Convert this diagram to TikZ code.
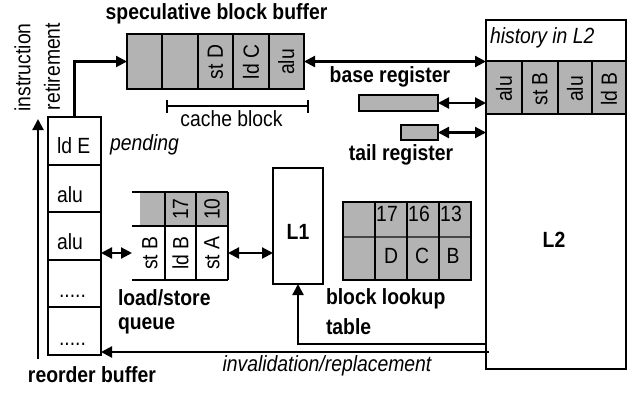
\documentclass[tikz,border=0pt]{standalone}
\usepackage{fontspec}
\setmainfont{Liberation Sans}[FakeStretch=0.88]
\usetikzlibrary{arrows.meta}
\definecolor{cellgray}{RGB}{179,179,179}
\definecolor{ruleline}{RGB}{70,70,70}
\begin{document}
\begin{tikzpicture}[x=1pt,y=-1pt,line width=2pt,
  >={Triangle[length=11pt,width=11pt]},
  every node/.style={font=\fontsize{22}{26}\selectfont,inner sep=0pt,outer sep=0pt},
  box/.style={draw,rectangle,line width=2pt},
  shaded/.style={box,fill=cellgray},
  vtext/.style={rotate=90},
  title/.style={font=\fontsize{22}{26}\selectfont\bfseries},
  note/.style={font=\fontsize{22}{26}\selectfont\itshape},
  conn/.style={line width=2.2pt}]
\useasboundingbox (0,0) rectangle (628,410);

% ---- speculative block buffer ----
\node[title] (sbtitle) at (216.5,14) {speculative block buffer};
\node[shaded,minimum width=177pt,minimum height=55pt] (sb) at (215.5,61.5) {};
\foreach \x in {162.4,197.8,233.2,268.6} \draw (\x,34) -- (\x,89);
\node[vtext] (sbD) at (215.5,62) {st D};
\node[vtext] (sbC) at (250.9,62) {ld C};
\node[vtext] (sbA) at (286.3,62) {alu};
\coordinate (cbl) at (166,106);
\coordinate (cbr) at (309,106);
\draw[line width=1.6pt,{Bar[width=13pt]}-{Bar[width=13pt]}] (cbl) -- (cbr);
\node (cblabel) at (231.5,119) {cache block};

% ---- L2 with history row ----
\fill[cellgray] (486,61) rectangle (626,114);
\node[box,minimum width=140pt,minimum height=349pt] (l2) at (556,194.5) {};
\draw (486,61) -- (626,61) (486,114) -- (626,114);
\foreach \x in {522,558,592} \draw (\x,61) -- (\x,114);
\node[note,anchor=west] (hist) at (490,38) {history in L2};
\node[vtext] (h1) at (504,89) {alu};
\node[vtext] (h2) at (540,89) {st B};
\node[vtext] (h3) at (575,89) {alu};
\node[vtext] (h4) at (609,89) {ld B};
\node[title] (l2lbl) at (554,240) {L2};

% ---- registers ----
\node[shaded,minimum width=79pt,minimum height=16pt] (basereg) at (398.5,103) {};
\node[title] (baselbl) at (390,77) {base register};
\node[shaded,minimum width=37pt,minimum height=15pt] (tailreg) at (419.5,132.5) {};
\node[title] (taillbl) at (401,155) {tail register};

% ---- reorder buffer ----
\foreach \i/\y in {1/140.8,2/188.4,3/236,4/283.6,5/331.2}
  \node[box,minimum width=53pt,minimum height=47.6pt] (rob\i) at (74.5,\y) {};
\node[anchor=base west] (r1) at (57,153.6) {ld E};
\node[anchor=base west] (r2) at (57,202) {alu};
\node[anchor=base west] (r3) at (57,249.6) {alu};
\node[anchor=base west] (r4) at (59,297.4) {.....};
\node[anchor=base west] (r5) at (59,345) {.....};
\node[title] (roblbl) at (92,375) {reorder buffer};
\node[note,anchor=west] (pend) at (110,145) {pending};
\node[vtext] (instr) at (22.5,67.5) {instruction};
\node[vtext] (retir) at (52,66.5) {retirement};

% ---- load/store queue ----
\fill[cellgray] (140,192) rectangle (228,226);
\draw (132,192) -- (228,192) (132,226) -- (228,226) (132,280) -- (228,280);
\foreach \x in {165,196,228} \draw (\x,192) -- (\x,280);
\node[minimum width=96pt,minimum height=54pt] (lsqbot) at (180,253) {};
\node[vtext] (q17) at (180.5,209) {17};
\node[vtext] (q10) at (212,209) {10};
\node[vtext] (qa) at (150,253) {st B};
\node[vtext] (qb) at (180.5,253) {ld B};
\node[vtext] (qc) at (212,253) {st A};
\node[title,anchor=west] (lsqlbl1) at (118,298) {load/store};
\node[title,anchor=west] (lsqlbl2) at (118,326) {queue};

% ---- L1 ----
\node[box,minimum width=50pt,minimum height=116pt] (l1) at (298,226) {};
\node[title] (l1lbl) at (298,232) {L1};

% ---- block lookup table ----
\node[shaded,minimum width=128pt,minimum height=78pt] (blt) at (407,241) {};
\draw[ruleline,line width=1.2pt] (344,237) -- (470,237);
\foreach \x in {375,407,439} \draw (\x,202) -- (\x,280);
\node (t17) at (387,214) {17};
\node (t16) at (419,214) {16};
\node (t13) at (451,214) {13};
\node (tD) at (391,256) {D};
\node (tC) at (422,256) {C};
\node (tB) at (453,256) {B};
\node[title,anchor=west] (bltlbl1) at (326,299) {block lookup};
\node[title,anchor=west] (bltlbl2) at (326,327) {table};

% ---- connectors ----
\draw[conn,->] (rob1.north) |- (sb.west);
\draw[conn,<->] (sb.east) -- (sb.east -| l2.west);
\draw[conn,<->] (basereg.east) -- (basereg.east -| l2.west);
\draw[conn,<->] (tailreg.east) -- (tailreg.east -| l2.west);
\draw[conn,<->] (lsqbot.west -| rob3.east) -- (lsqbot.west);
\draw[conn,<->] (lsqbot.east) -- (lsqbot.east -| l1.west);
\coordinate (fillpt) at (486,344);
\draw[conn,->] (fillpt) -| (l1.south);
\coordinate (invpt) at (489,352);
\draw[conn,->] (invpt) -- (invpt -| rob5.east);
\node[note] (invlbl) at (327,366) {invalidation/replacement};
\coordinate (retlo) at (38,359);
\coordinate (rethi) at (38,119);
\draw[conn,->] (retlo) -- (rethi);
\end{tikzpicture}
\end{document}
